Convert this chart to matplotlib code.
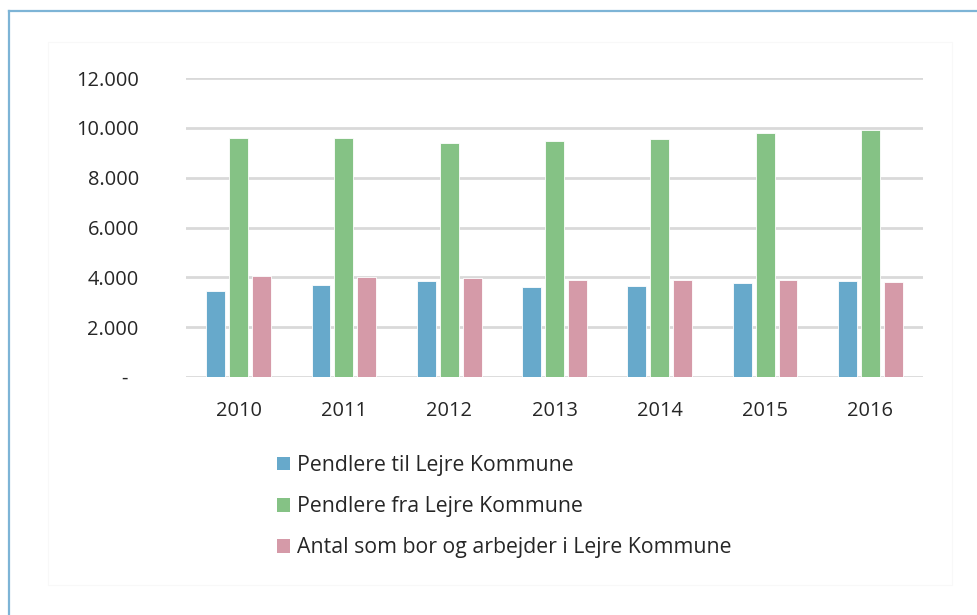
import numpy as np
import matplotlib
matplotlib.use('Agg')
import matplotlib.pyplot as plt
from matplotlib.patches import Patch, Rectangle
from matplotlib.lines import Line2D

# Data
years = ['2010', '2011', '2012', '2013', '2014', '2015', '2016']
pendlere_til = [3440, 3680, 3870, 3600, 3640, 3770, 3870]
pendlere_fra = [9600, 9590, 9390, 9470, 9560, 9800, 9910]
bor_og_arbejder = [4040, 4010, 3960, 3880, 3880, 3890, 3830]

series_labels = ['Pendlere til Lejre Kommune',
                 'Pendlere fra Lejre Kommune',
                 'Antal som bor og arbejder i Lejre Kommune']
colors = ['#67a9cb', '#85c285', '#d59aa8']
yticks = [0, 2000, 4000, 6000, 8000, 10000, 12000]

plt.rcParams['font.family'] = ['Open Sans', 'DejaVu Sans']
text_color = '#262626'
W, H = 978, 615

fig = plt.figure(figsize=(W / 100, H / 100), dpi=100)

# outer blue frame (cut off at right and bottom) and faint inner chart area
fig.add_artist(Line2D([8.5 / W, 1.0], [1 - 10.5 / H, 1 - 10.5 / H], color='#7db4d6', lw=1.6))
fig.add_artist(Line2D([8.5 / W, 8.5 / W], [0.0, 1 - 10.5 / H], color='#7db4d6', lw=1.6))
fig.add_artist(Rectangle((48 / W, 1 - 585 / H), (952 - 48) / W, (585 - 42) / H,
                         transform=fig.transFigure, fill=False, edgecolor='#f8f8f8', lw=0.8))

ax = fig.add_axes([186 / W, 1 - 377 / H, (923 - 186) / W, (377 - 78) / H])

x = np.arange(len(years))
step = 0.218
width = 0.18
for i, (vals, col, lab) in enumerate(zip([pendlere_til, pendlere_fra, bor_og_arbejder], colors, series_labels)):
    ax.bar(x + (i - 1) * step, vals, width=width, color=col, edgecolor='white',
           linewidth=0.6, label=lab, zorder=3)

ax.set_xlim(-0.5, len(years) - 0.5)
ax.set_ylim(0, 12000)

for yv in yticks:
    ax.axhline(yv, color='#d9d9d9', lw=2, zorder=1)

ax.set_yticks(yticks)
ax.set_yticklabels(['-  '] + [f'{v:,}'.replace(',', '.') for v in yticks[1:]])
ax.set_xticks(x)
ax.set_xticklabels(years)
ax.tick_params(axis='both', length=0, labelsize=14.4, colors=text_color)
ax.tick_params(axis='y', pad=34)
ax.tick_params(axis='x', pad=17)
for s in ax.spines.values():
    s.set_visible(False)

handles = [Patch(facecolor=c, edgecolor='none') for c in colors]
fig.legend(handles, series_labels, loc='upper left', bbox_to_anchor=(277 / W, 1 - 455 / H),
           frameon=False, fontsize=15.3, handlelength=0.62, handleheight=0.62,
           handletextpad=0.3, labelspacing=0.95, borderpad=0, borderaxespad=0,
           labelcolor=text_color)

plt.savefig('out.png', dpi=100)
